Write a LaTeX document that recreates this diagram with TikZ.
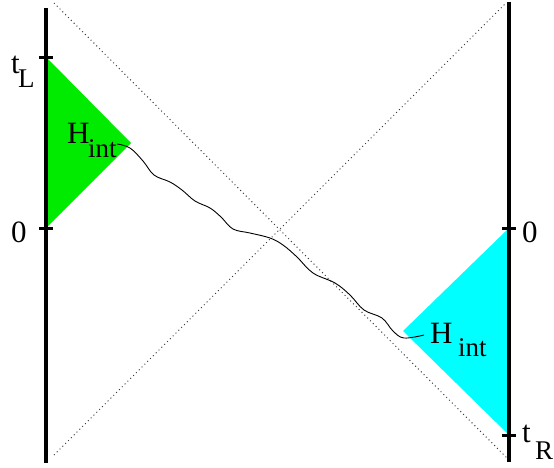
\documentclass[tikz,border=0pt]{standalone}
\usepackage{fontspec}
\setmainfont{Liberation Serif}
\definecolor{regL}{RGB}{0,235,0}
\definecolor{regR}{RGB}{0,255,255}
\definecolor{dotc}{RGB}{60,60,60}
\tikzset{
  axis/.style={line width=3.2pt, black},
  tick/.style={line width=3pt, black},
  lightcone/.style={dotc, line width=1pt, dash pattern=on 1pt off 3pt},
  wig/.style={black, line width=0.9pt},
  lab/.style={font=\fontsize{31}{36}\selectfont, inner sep=0pt, anchor=base west},
  sublab/.style={font=\fontsize{27}{30}\selectfont, inner sep=0pt, anchor=base west},
}
\begin{document}
\begin{tikzpicture}[x=1pt,y=-1pt]
\useasboundingbox (0,0) rectangle (554,467);
% regions
\fill[regL] (46,57) -- (131,143) -- (46,228) -- cycle;
\fill[regR] (509,228) -- (403,331) -- (509,435) -- cycle;
% light cones
\coordinate (c1a) at (54,3);
\coordinate (c1b) at (508,459);
\coordinate (c2a) at (54,455);
\coordinate (c2b) at (506,3);
\draw[lightcone] (c1a) -- (c1b);
\draw[lightcone] (c2a) -- (c2b);
% boundaries
\coordinate (Ltop) at (46,8);
\coordinate (Lbot) at (46,463);
\coordinate (Rtop) at (509,2);
\coordinate (Rbot) at (509,462);
\draw[axis] (Ltop) -- (Lbot);
\draw[axis] (Rtop) -- (Rbot);
% ticks
\draw[tick] (39,57) -- (53,57);
\draw[tick] (39,228) -- (53,228);
\draw[tick] (502,228) -- (516,228);
\draw[tick] (502,435) -- (516,435);
% labels
\node[lab] (tL) at (11,73) {t};
\node[sublab] (tLs) at (18,87) {L};
\node[lab] (zL) at (11,242) {0};
\node[lab] (zR) at (522,242) {0};
\node[lab] (tR) at (522,442) {t};
\node[sublab] (tRs) at (535,459) {R};
\node[lab] (HL) at (67,143) {H};
\node[sublab] (HLs) at (88,157) {int};
\node[lab] (HR) at (430,343) {H};
\node[sublab] (HRs) at (458,356) {int};
% wavy connection
\draw[wig] plot[smooth, tension=0.6] coordinates {
(117,144) (130,148) (143,161) (154,175) (170,182) (182,190) (195,201)
(210,208) (221,217) (233,229) (250,233) (270,238) (283,245) (297,257)
(313,273) (335,283) (350,295) (364,310) (382,318) (393,331) (404,338) (424,335)};
\end{tikzpicture}
\end{document}
